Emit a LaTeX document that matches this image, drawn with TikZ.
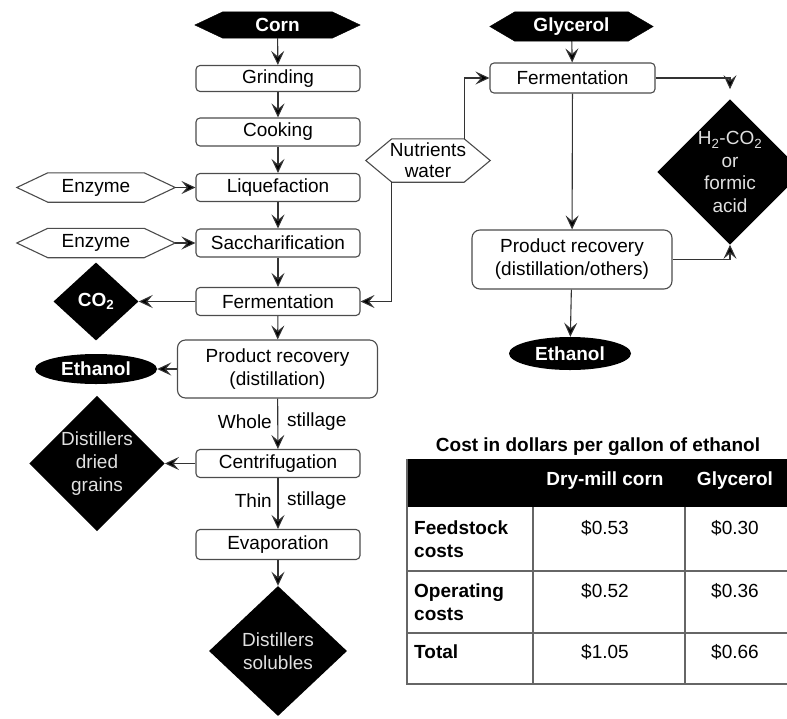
\documentclass[tikz,border=0pt]{standalone}
\usepackage{fontspec}
\setmainfont{Liberation Sans}
\usetikzlibrary{arrows.meta,shapes.geometric,backgrounds}
\newcommand{\hexoutline}[3]{\draw[#3] (#1.west) -- ([xshift=#2]#1.north west) -- ([xshift=-#2]#1.north east) -- (#1.east) -- ([xshift=-#2]#1.south east) -- ([xshift=#2]#1.south west) -- cycle;}
\begin{document}
\begin{tikzpicture}[x=1pt,y=-1pt, font=\fontsize{19}{23}\selectfont,
  line/.style={draw=black!80, line width=1.1pt},
  arr/.style={line, -{Stealth[length=14pt,width=13pt,inset=5.5pt,fill=black]}},
  proc/.style={draw=black!70, line width=1.1pt, rounded corners=4pt, minimum width=164pt, minimum height=28pt, inner sep=0pt, align=center},
  bigproc/.style={proc, rounded corners=8pt, minimum width=200pt, minimum height=58pt},
  hexnode/.style={inner sep=0pt, align=center},
  boldwhite/.style={text=white, font=\fontsize{19}{23}\selectfont\bfseries},
  blackdia/.style={diamond, fill=black, inner sep=0pt, aspect=1, align=center, text=black!12},
  blackell/.style={ellipse, fill=black, inner sep=0pt, boldwhite},
  hexline/.style={draw=black!70, line width=1.1pt, fill=white},
  hexfill/.style={fill=black},
  tab/.style={draw=black!60, line width=1.6pt},
  cell/.style={inner sep=0pt, align=center, anchor=north},
  rowlab/.style={inner sep=0pt, align=left, anchor=north west, font=\fontsize{19}{23}\selectfont\bfseries}
]
\useasboundingbox (0,0) rectangle (787,718);

% ---- corn column ----
\node[hexnode, boldwhite, minimum width=165pt, minimum height=26pt] (corn) at (277.5,25) {Corn};
\node[proc, minimum height=26pt] (grind) at (278,78.5) {Grinding};
\node[proc] (cook) at (278,132) {Cooking};
\node[proc] (liq) at (278,187.5) {Liquefaction};
\node[proc] (sacch) at (278,243) {Saccharification};
\node[proc] (ferm) at (278,301.5) {Fermentation};
\node[bigproc] (pr) at (277.5,369) {Product recovery\\(distillation)};
\node[proc] (cent) at (278,463.5) {Centrifugation};
\node[proc, minimum height=30pt] (evap) at (278,544.5) {Evaporation};
\node[blackdia, minimum width=138pt, minimum height=130pt] (sol) at (278,651) {Distillers\\solubles};

\node[hexnode, minimum width=158pt, minimum height=29pt] (enz1) at (96,187.5) {Enzyme};
\node[hexnode, minimum width=158pt, minimum height=29pt] (enz2) at (96,243) {Enzyme};
\node[blackdia, minimum width=85pt, minimum height=78pt, boldwhite] (co2) at (96,301.5) {CO\textsubscript{2}};
\node[blackell, minimum width=122pt, minimum height=30pt] (eth1) at (96,369) {Ethanol};
\node[blackdia, minimum width=134pt, minimum height=114pt] (ddg) at (97,463.5) {Distillers\\dried\\grains};

\node[anchor=east, inner sep=0pt] (whole) at (272,422) {Whole};
\node[anchor=west, inner sep=0pt] (still1) at (287,422) {stillage};
\node[anchor=east, inner sep=0pt] (thin) at (272,501) {Thin};
\node[anchor=west, inner sep=0pt] (still2) at (287,501) {stillage};

% ---- glycerol column ----
\node[hexnode, boldwhite, minimum width=163pt, minimum height=29pt] (gly) at (571.5,26.5) {Glycerol};
\node[proc, minimum width=165pt, minimum height=30pt] (gferm) at (572.5,78) {Fermentation};
\node[hexnode, minimum width=124pt, minimum height=43pt, font=\fontsize{19}{21}\selectfont] (nutr) at (428,160.5) {Nutrients\\water};
\node[bigproc, minimum height=59pt] (gpr) at (572,259.5) {Product recovery\\(distillation/others)};
\node[blackell, minimum width=122pt, minimum height=33pt] (eth2) at (570,353.5) {Ethanol};
\node[blackdia, minimum width=140pt, minimum height=139pt, font=\fontsize{19}{22.5}\selectfont] (h2) at (730,172) {H\textsubscript{2}-CO\textsubscript{2}\\or\\formic\\acid};

% ---- hexagon outlines ----
\begin{scope}[on background layer]
\hexoutline{corn}{28pt}{hexfill}
\hexoutline{gly}{25pt}{hexfill}
\hexoutline{enz1}{31pt}{hexline}
\hexoutline{enz2}{31pt}{hexline}
\hexoutline{nutr}{26pt}{hexline}
\end{scope}

% ---- connectors ----
\draw[arr] (corn) -- (grind);
\draw[arr] (grind) -- (cook);
\draw[arr] (cook) -- (liq);
\draw[arr] (liq) -- (sacch);
\draw[arr] (sacch) -- (ferm);
\draw[arr] (ferm) -- (pr);
\draw[arr] (pr) -- (cent);
\draw[arr] (cent) -- (evap);
\draw[arr] (evap) -- (sol);
\draw[arr] (enz1) -- (liq);
\draw[arr] (enz2) -- (sacch);
\draw[arr] (ferm) -- (co2);
\draw[arr] (pr) -- (eth1);
\draw[arr] (cent) -- (ddg);

\draw[arr] (gly) -- (gferm);
\draw[arr] (gferm) -- (gpr);
\draw[arr] (gpr) -- (eth2);
\draw[arr] ([xshift=-26pt]nutr.north east) |- (gferm.west);
\draw[arr] ([xshift=26pt]nutr.south west) |- (ferm.east);
\draw[arr, shorten >=10pt] (gferm.east) -| (h2.north);
\draw[arr] (gpr.east) -| (h2.south);

% ---- table ----
\node[inner sep=0pt, font=\fontsize{19}{23}\selectfont\bfseries] (title) at (598,447) {Cost in dollars per gallon of ethanol};
\fill[black] (407,459) rectangle (790,507);
\draw[tab] (407,459) -- (407,684) -- (790,684);
\draw[tab] (407,571) -- (790,571);
\draw[tab] (407,633) -- (790,633);
\draw[tab] (533,507) -- (533,684);
\draw[tab] (685,507) -- (685,684);
\node[boldwhite, inner sep=0pt] (hcorn) at (605,481) {Dry-mill corn};
\node[boldwhite, inner sep=0pt] (hgly) at (735,481) {Glycerol};
\node[rowlab] (r1) at (414,521) {Feedstock\\costs};
\node[rowlab] (r2) at (414,584) {Operating\\costs};
\node[rowlab] (r3) at (414,645) {Total};
\node[cell] (v11) at (605,520) {\$0.53};
\node[cell] (v12) at (735,520) {\$0.30};
\node[cell] (v21) at (605,583) {\$0.52};
\node[cell] (v22) at (735,583) {\$0.36};
\node[cell] (v31) at (605,644) {\$1.05};
\node[cell] (v32) at (735,644) {\$0.66};
\end{tikzpicture}
\end{document}
